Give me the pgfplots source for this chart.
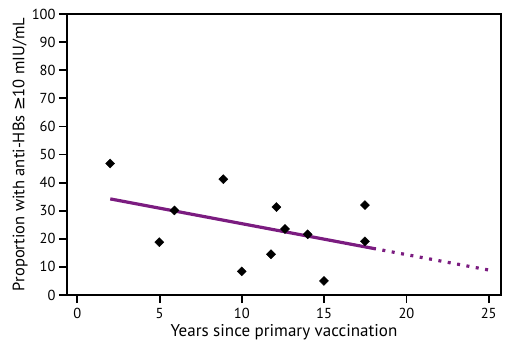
\documentclass[border=0pt]{standalone}
\usepackage{pgfplots}
\pgfplotsset{compat=1.18}
\usepackage{fontspec}
\setmainfont{PT Sans}
\newfontfamily\symfont{DejaVu Sans}
\definecolor{fitpurple}{HTML}{7B1C80}
\begin{document}
\begin{tikzpicture}
\path[use as bounding box] (-67pt,-51pt) rectangle (453pt,295pt);
\begin{axis}[
  at={(0,0)}, anchor=south west,
  scale only axis, width=434pt, height=281pt,
  xmin=-0.63, xmax=25.75, ymin=0, ymax=100,
  xtick={0,5,...,25}, ytick={0,10,...,100},
  xtick pos=left, ytick pos=left,
  tick align=outside, major tick length=8pt,
  axis line style={line width=2pt},
  every tick/.style={black, line width=1.8pt},
  tick label style={font=\fontsize{14.5}{16}\selectfont},
  xticklabel style={yshift=-1.5pt},
  /pgf/number format/assume math mode=true,
  xlabel={Years since primary vaccination},
  ylabel={Proportion with anti-HBs {\symfont ≥}10 mIU/mL},
  xlabel style={at={(axis description cs:0.5,-0.134)}, anchor=center, font=\fontsize{17}{19}\selectfont},
  ylabel style={at={(axis description cs:-0.108,0.5)}, rotate=0, anchor=center, font=\fontsize{16.5}{19}\selectfont},
  clip=false,
]
\addplot[fitpurple, line width=3.2pt] coordinates {(2,34.2) (18.15,16.4)};
\addplot[fitpurple, line width=3.2pt, dash pattern=on 3pt off 6.5pt, dash phase=3pt] coordinates {(18.15,16.4) (25,8.9)};
\addplot[only marks, black, mark=square*, mark size=3.2pt, mark options={rotate=45}] coordinates {
(1.99,46.8) (4.98,18.8) (5.9,30.1) (8.87,41.2) (9.99,8.4) (11.77,14.5)
(12.1,31.3) (12.62,23.5) (14.0,21.6) (14.99,5.0) (17.48,32.0) (17.48,19.1)
};
\end{axis}
\end{tikzpicture}
\end{document}
